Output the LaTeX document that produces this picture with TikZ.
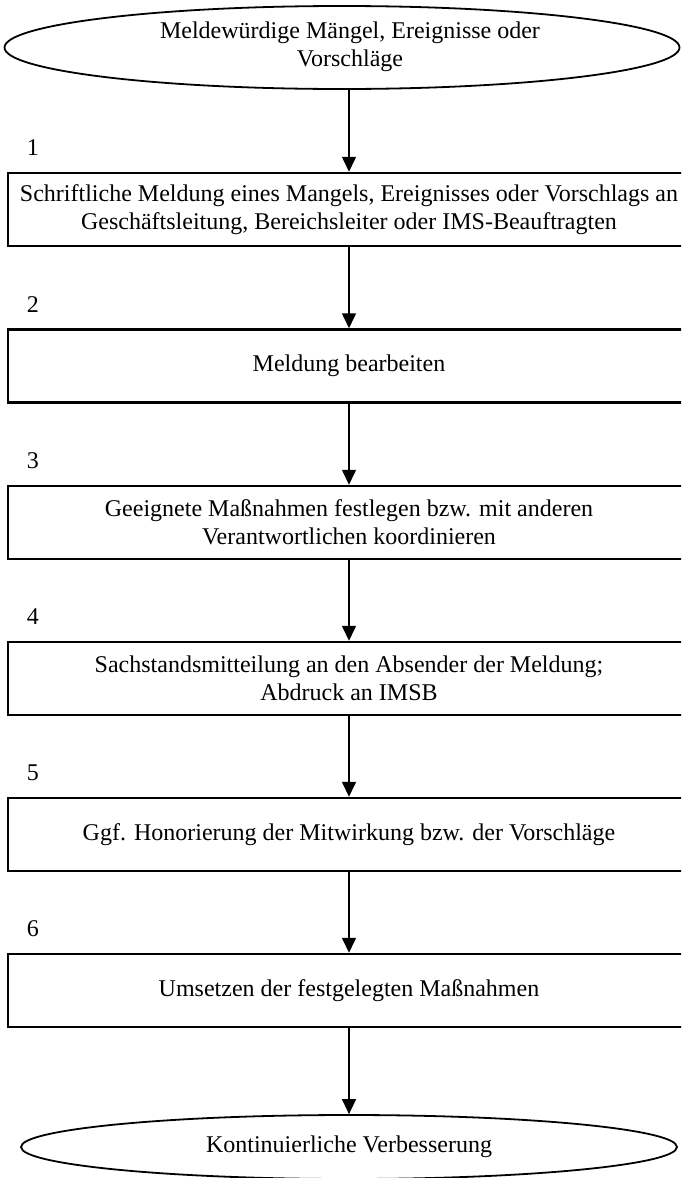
\documentclass[tikz,border=0pt]{standalone}
\usepackage{fontspec}
\setmainfont{Liberation Serif}
\usetikzlibrary{shapes.geometric,arrows.meta}
\begin{document}
\begin{tikzpicture}[x=1pt,y=-1pt,
  every node/.style={font=\fontsize{24}{27.6}\selectfont},
  term/.style={draw, ellipse, line width=1.8pt, inner sep=0pt, align=center},
  stepbox/.style={draw, rectangle, line width=2.5pt, minimum width=682pt, minimum height=73pt, inner sep=0pt, align=center},
  num/.style={inner sep=0pt},
  flow/.style={line width=1.6pt, -{Triangle[width=14pt,length=15pt]}}]
\useasboundingbox (0,0) rectangle (681,1178);
\clip (0,0) rectangle (681,1178);
\fill[white] (0,0) rectangle (681,1178);

\node[term, minimum width=675pt, minimum height=83pt] (start) at (342,47.5) {};
\node (starttext) at (350,46.5) [align=center]
  {Meldewürdige Mängel, Ereignisse oder\\Vorschläge};

\node[stepbox] (s1) at (349,209.5) {Schriftliche Meldung eines Mangels, Ereignisses oder Vorschlags an\\Geschäftsleitung, Bereichsleiter oder IMS-Beauftragten};
\node[stepbox] (s2) at (349,366) {Meldung bearbeiten};
\node[stepbox] (s3) at (349,522.5) {Geeignete Maßnahmen festlegen bzw. mit anderen\\Verantwortlichen koordinieren};
\node[stepbox] (s4) at (349,678.5) {Sachstandsmitteilung an den Absender der Meldung;\\Abdruck an IMSB};
\node[stepbox] (s5) at (349,834.5) {Ggf. Honorierung der Mitwirkung bzw. der Vorschläge};
\node[stepbox] (s6) at (349,990.5) {Umsetzen der festgelegten Maßnahmen};

\node[term, minimum width=656pt, minimum height=64pt] (end) at (349,1147)
  {Kontinuierliche Verbesserung};

\node[num] (n1) at (33,148) {1};
\node[num] (n2) at (33,304.5) {2};
\node[num] (n3) at (33,461) {3};
\node[num] (n4) at (33,617) {4};
\node[num] (n5) at (33,773) {5};
\node[num] (n6) at (33,929) {6};

\draw[flow] (s1.north |- start.south) -- (s1.north);
\draw[flow] (s1) -- (s2);
\draw[flow] (s2) -- (s3);
\draw[flow] (s3) -- (s4);
\draw[flow] (s4) -- (s5);
\draw[flow] (s5) -- (s6);
\draw[flow] (s6) -- (end);
\end{tikzpicture}
\end{document}
